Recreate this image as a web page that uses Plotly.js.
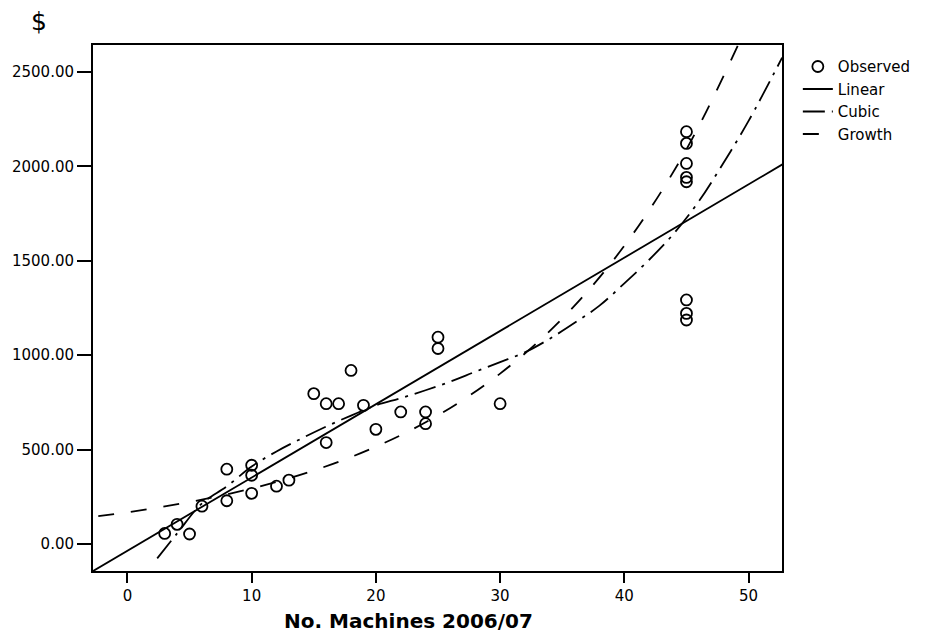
<!DOCTYPE html>
<html>
<head>
<meta charset="utf-8">
<script src="https://cdn.plot.ly/plotly-3.0.1.min.js"></script>
<style>
  html, body { margin: 0; padding: 0; background: #fff; }
  #chart { width: 928px; height: 634px; }
</style>
</head>
<body>
<div id="chart"></div>
<script>
// Observed data (No. Machines 2006/07 vs $)
var obsX = [3, 4, 5, 6, 8, 8, 10, 10, 10, 12, 13, 15, 16, 16, 17, 18, 19, 20, 22, 24, 24, 25, 25, 30,
            45, 45, 45, 45, 45, 45, 45, 45];
var obsY = [56, 104, 53, 200, 396, 229, 417, 364, 268, 306, 338, 796, 743, 537, 743, 919, 734, 607, 699, 699, 637, 1095, 1035, 743,
            2183, 2121, 2015, 1941, 1918, 1292, 1221, 1186];

// Fitted curves
var linX = [-5, 55];
var linY = [-230, 2098];

var cubX = [2.4, 4, 6, 8, 10, 12, 14, 16, 18, 20, 22, 24, 26, 28, 30, 32, 34, 36, 38, 40, 42, 44, 46, 48, 50, 52.7];
var cubY = [-76, 56, 215, 305, 410, 490, 558, 622, 680, 734, 772, 814, 860, 912, 963, 1015, 1087, 1171, 1262, 1380, 1505, 1645, 1815, 2020, 2240, 2575];

var growX = [-5, 0, 5, 10, 15, 20, 25, 30, 35, 40, 45, 50];
var growY = [127, 168, 222, 294, 389, 515, 681, 902, 1193, 1579, 2090, 2763];

var xTicks = [0, 10, 20, 30, 40, 50];
var yTicks = [0, 500, 1000, 1500, 2000, 2500];

var FONT = 'DejaVu Sans, Arial, sans-serif';

var traces = [
  {
    x: obsX, y: obsY, type: 'scatter', mode: 'markers', name: 'Observed',
    marker: { symbol: 'circle-open', size: 11, color: '#000', line: { color: '#000', width: 1.8 } }
  },
  {
    x: linX, y: linY, type: 'scatter', mode: 'lines', name: 'Linear',
    line: { color: '#000', width: 1.8 }
  },
  {
    x: cubX, y: cubY, type: 'scatter', mode: 'lines', name: 'Cubic',
    line: { color: '#000', width: 1.8, dash: '22px,7px,3px,7px', shape: 'spline', smoothing: 1 }
  },
  {
    x: growX, y: growY, type: 'scatter', mode: 'lines', name: 'Growth',
    line: { color: '#000', width: 1.8, dash: '16px,17px', shape: 'spline', smoothing: 1 }
  }
];

var layout = {
  width: 928, height: 634,
  margin: { l: 93, r: 144, t: 45, b: 63 },
  paper_bgcolor: '#fff', plot_bgcolor: '#fff',
  font: { family: FONT, size: 15, color: '#000' },
  showlegend: true,
  legend: {
    x: 1.023, y: 0.99, xanchor: 'left', yanchor: 'top',
    font: { family: FONT, size: 15, color: '#000' },
    bgcolor: 'rgba(0,0,0,0)', borderwidth: 0
  },
  xaxis: {
    range: [-2.77, 52.69],
    tickvals: xTicks, ticktext: xTicks.map(String),
    ticks: 'outside', ticklen: 10, tickwidth: 2, tickcolor: '#000',
    showline: true, linewidth: 2, linecolor: '#000', mirror: true,
    showgrid: false, zeroline: false,
    tickfont: { family: FONT, size: 15, color: '#000' }
  },
  yaxis: {
    range: [-143, 2642],
    tickvals: yTicks, tickformat: '.2f',
    ticks: 'outside', ticklen: 14, tickwidth: 2, tickcolor: '#000',
    showline: true, linewidth: 2, linecolor: '#000', mirror: true,
    showgrid: false, zeroline: false,
    tickfont: { family: FONT, size: 15, color: '#000' }
  },
  annotations: [
    {
      text: '$', xref: 'paper', yref: 'paper',
      x: (39 - 93) / 691, y: (571 - 22) / 526, xanchor: 'center', yanchor: 'middle',
      showarrow: false, font: { family: FONT, size: 25, color: '#000' }
    },
    {
      text: '<b>No. Machines 2006/07</b>', xref: 'paper', yref: 'paper',
      x: (409.5 - 93) / 691, y: (571 - 621) / 526, xanchor: 'center', yanchor: 'middle',
      showarrow: false, font: { family: FONT, size: 20, color: '#000' }
    }
  ]
};

Plotly.newPlot('chart', traces, layout, { displayModeBar: false, staticPlot: true });
</script>
</body>
</html>
